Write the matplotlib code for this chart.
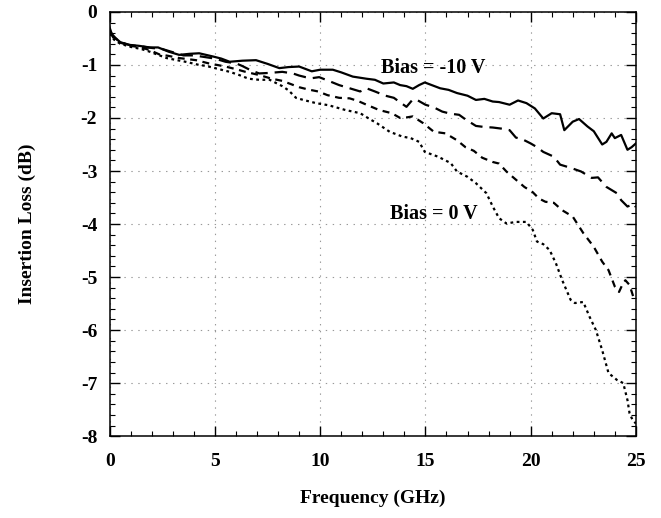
import matplotlib
matplotlib.use("Agg")
import matplotlib.pyplot as plt
from matplotlib.ticker import MultipleLocator, FixedLocator, FixedFormatter

plt.rcParams['font.family'] = ['Liberation Serif', 'DejaVu Serif']
plt.rcParams['font.weight'] = 'bold'
plt.rcParams['axes.unicode_minus'] = False
plt.rcParams['lines.scale_dashes'] = False

# ---- data ----
f_m10 = [0, 0.1, 0.3, 0.5, 0.9, 1.4, 1.9, 2.3, 2.8, 3.3, 3.8, 4.25, 4.9, 5.3, 5.7, 6.3, 6.95, 7.5,
         8.06, 8.5, 9.0, 9.6, 10.0, 10.6, 11.0, 11.55, 12.2, 12.6, 13.0, 13.5, 13.8, 14.1, 14.4, 14.7,
         14.97, 15.3, 15.7, 16.1, 16.5, 17.0, 17.4, 17.8, 18.2, 18.5, 19.0, 19.4, 19.8, 20.2, 20.6,
         21.0, 21.4, 21.6, 22.0, 22.3, 22.7, 23.0, 23.4, 23.6, 23.85, 24.0, 24.3, 24.6, 24.8, 25.0]
L_m10 = [-0.30, -0.42, -0.50, -0.57, -0.62, -0.64, -0.67, -0.67, -0.75, -0.81, -0.79, -0.78, -0.84,
         -0.88, -0.94, -0.92, -0.91, -0.98, -1.06, -1.04, -1.03, -1.12, -1.09, -1.09, -1.14, -1.22,
         -1.26, -1.28, -1.35, -1.33, -1.38, -1.40, -1.45, -1.38, -1.33, -1.38, -1.44, -1.47, -1.53,
         -1.58, -1.66, -1.64, -1.69, -1.70, -1.75, -1.67, -1.72, -1.82, -2.01, -1.91, -1.93, -2.23,
         -2.07, -2.02, -2.16, -2.25, -2.50, -2.45, -2.29, -2.38, -2.32, -2.60, -2.55, -2.48]

f_b2 = [0, 0.2, 0.5, 1.0, 1.5, 2.0, 2.5, 3.0, 3.5, 4.0, 4.5, 5.0, 5.5, 6.0, 6.3, 6.7, 7.1, 7.6, 8.2,
        8.7, 9.0, 9.3, 9.6, 9.95, 10.4, 10.9, 11.4, 11.9, 12.2, 12.6, 13.1, 13.5, 13.85, 14.1, 14.4,
        14.6, 15.0, 15.4, 15.8, 16.2, 16.6, 16.95, 17.2, 17.4, 17.8, 18.2, 18.6, 19.0, 19.3, 19.6,
        20.0, 20.3, 20.6, 21.1, 21.4, 21.9, 22.4, 22.9, 23.2, 23.6, 24.1, 24.3, 24.6, 24.9, 25.0]
L_b2 = [-0.35, -0.48, -0.57, -0.63, -0.65, -0.68, -0.70, -0.76, -0.82, -0.82, -0.85, -0.88, -0.94,
        -0.97, -1.02, -1.10, -1.16, -1.15, -1.13, -1.16, -1.20, -1.23, -1.25, -1.23, -1.30, -1.38,
        -1.44, -1.50, -1.44, -1.50, -1.58, -1.62, -1.72, -1.79, -1.65, -1.66, -1.75, -1.80, -1.88,
        -1.92, -1.94, -2.04, -2.10, -2.15, -2.17, -2.18, -2.20, -2.23, -2.37, -2.40, -2.48, -2.55,
        -2.64, -2.73, -2.88, -2.94, -3.01, -3.13, -3.12, -3.30, -3.42, -3.55, -3.67, -3.62, -3.68]

f_b3 = [0, 0.2, 0.5, 1.0, 1.5, 1.9, 2.35, 2.8, 3.3, 3.7, 4.1, 4.7, 5.1, 5.5, 6.0, 6.45, 7.1, 7.7,
        8.2, 8.6, 9.0, 9.4, 9.9, 10.35, 10.9, 11.4, 11.8, 12.2, 12.8, 13.4, 13.8, 14.1, 14.4, 14.9,
        15.4, 15.95, 16.5, 16.9, 17.3, 17.7, 18.2, 18.5, 18.85, 19.2, 19.7, 20.1, 20.4, 20.7, 21.1,
        21.5, 22.0, 22.5, 23.0, 23.4, 23.7, 24.0, 24.2, 24.35, 24.5, 24.7, 24.9, 25.0]
L_b3 = [-0.38, -0.50, -0.58, -0.64, -0.67, -0.72, -0.80, -0.83, -0.87, -0.89, -0.91, -0.97, -1.00,
        -1.03, -1.08, -1.13, -1.19, -1.26, -1.30, -1.36, -1.42, -1.46, -1.50, -1.57, -1.62, -1.63,
        -1.68, -1.75, -1.85, -1.91, -2.00, -1.99, -1.97, -2.10, -2.26, -2.29, -2.42, -2.55, -2.62,
        -2.75, -2.83, -2.86, -3.01, -3.13, -3.30, -3.40, -3.52, -3.58, -3.60, -3.74, -3.86, -4.17,
        -4.43, -4.71, -4.87, -5.18, -5.28, -5.15, -5.06, -5.15, -5.40, -5.45]

f_0 = [0, 0.2, 0.5, 1.0, 1.5, 1.9, 2.3, 2.7, 3.2, 3.6, 4.25, 4.6, 5.0, 5.7, 6.15, 6.6, 7.1, 7.6,
       8.2, 8.5, 8.85, 9.2, 9.8, 10.4, 11.2, 11.9, 12.35, 12.7, 13.3, 13.9, 14.3, 14.7, 14.97, 15.6,
       16.2, 16.5, 17.0, 17.4, 17.9, 18.2, 18.5, 18.85, 19.3, 19.8, 20.1, 20.3, 20.6, 20.9, 21.2,
       21.5, 21.9, 22.1, 22.5, 22.8, 23.1, 23.4, 23.7, 24.1, 24.4, 24.6, 24.7, 24.85, 25.0]
L_0 = [-0.40, -0.52, -0.60, -0.66, -0.70, -0.75, -0.81, -0.87, -0.91, -0.94, -1.00, -1.02, -1.06,
       -1.13, -1.19, -1.26, -1.28, -1.28, -1.40, -1.48, -1.62, -1.66, -1.72, -1.76, -1.85, -1.91,
       -2.02, -2.10, -2.26, -2.35, -2.38, -2.45, -2.64, -2.73, -2.85, -3.01, -3.11, -3.23, -3.42,
       -3.67, -3.89, -3.99, -3.96, -3.96, -4.11, -4.33, -4.38, -4.49, -4.74, -5.06, -5.43, -5.49,
       -5.47, -5.75, -6.00, -6.38, -6.81, -6.94, -7.00, -7.32, -7.57, -7.70, -7.76]

x_ticks = [0, 5, 10, 15, 20, 25]
x_labels = ['0', '5', '10', '15', '20', '25']
y_ticks = [0, -1, -2, -3, -4, -5, -6, -7, -8]
y_labels = ['0', '-1', '-2', '-3', '-4', '-5', '-6', '-7', '-8']

# ---- figure ----
fig = plt.figure(figsize=(6.61, 5.18), dpi=100)
ax = fig.add_axes([0.166, 0.158, 0.796, 0.819])

lw = 1.6
ax.plot(f_m10, L_m10, color='black', lw=lw, solid_joinstyle='round')
ax.plot(f_b2, L_b2, color='black', lw=lw, dashes=(9, 5))
ax.plot(f_b3, L_b3, color='black', lw=lw, dashes=(5, 4))
ax.plot(f_0, L_0, color='black', lw=lw, dashes=(2, 2.5))

ax.set_xlim(0, 25)
ax.set_ylim(-8, 0)

ax.xaxis.set_major_locator(FixedLocator(x_ticks))
ax.xaxis.set_major_formatter(FixedFormatter(x_labels))
ax.yaxis.set_major_locator(FixedLocator(y_ticks))
ax.yaxis.set_major_formatter(FixedFormatter(y_labels))
ax.xaxis.set_minor_locator(MultipleLocator(1))
ax.yaxis.set_minor_locator(MultipleLocator(0.2))

ax.tick_params(which='both', direction='in', top=True, right=True, color='black')
ax.tick_params(which='major', length=7, width=1)
ax.tick_params(which='minor', length=3.5, width=0.8)
ax.tick_params(axis='x', which='major', labelsize=14, pad=12)
ax.tick_params(axis='y', which='major', labelsize=14, pad=9)

ax.grid(True, which='major', color='#999999', lw=0.8, dashes=(1, 4))
for s in ax.spines.values():
    s.set_linewidth(1.1)

ax.set_xlabel('Frequency (GHz)', fontsize=14, fontweight='bold', labelpad=14)
ax.set_ylabel('Insertion Loss (dB)', fontsize=14, fontweight='bold', labelpad=32)

ax.text(12.9, -1.06, 'Bias = -10 V', fontsize=14.5, fontweight='bold', va='center', ha='left')
ax.text(13.3, -3.81, 'Bias = 0 V', fontsize=14.5, fontweight='bold', va='center', ha='left')

fig.savefig('out.png', dpi=100)
